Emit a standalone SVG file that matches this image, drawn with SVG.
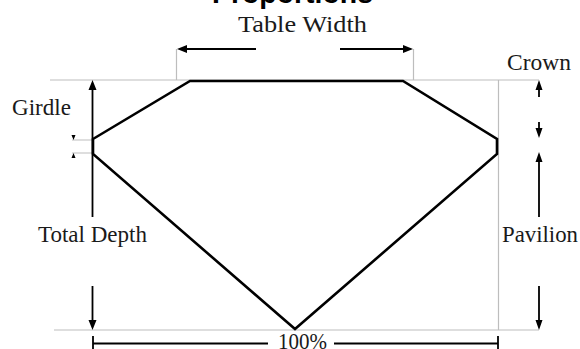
<svg xmlns="http://www.w3.org/2000/svg" width="580" height="349" viewBox="0 0 580 349">
<style>
text{font-family:"Liberation Serif",serif;font-size:23px;fill:#1a1a1a}
.g{stroke:#bdbdbd;stroke-width:1.2;fill:none}
.a{stroke:#000;stroke-width:1.8;fill:none}
.h{fill:#000;stroke:none}
</style>
<rect width="580" height="349" fill="#fff"/>
<g id="guides">
<path class="g" d="M50 80H539M54 330H539M176.500 49V80M413.500 49V80M498.500 80V330M72 140H93M72 153H93"/>
</g>
<g id="diamond"><path d="M93 139L190 81H403L497 139V154L295 329L93 154Z" fill="none" stroke="#000" stroke-width="2.600" stroke-linejoin="miter"/></g>
<g id="connectors">
<path class="a" d="M256 49H186M340 49H404M92.500 217V88M92.500 286V322M539 97V88M539 122V131M539 217V160M539 286V322M93 343.500H268M334 343.500H498M93 336V349M498 336V349"/>
<path class="h" d="M177 49L187 45V53ZM413 49L403 45V53ZM92.500 80L88.500 90H96.500ZM92.500 330L88.500 320H96.500ZM539 80L535.500 90H542.500ZM539 138L535.500 128H542.500ZM539 152L535.500 162H542.500ZM539 330L535.500 320H542.500ZM73.500 140L71.500 135H75.500ZM73.500 153L71.500 158H75.500Z"/>
</g>
<g id="title"><text x="292.500" y="3" text-anchor="middle" textLength="161" lengthAdjust="spacingAndGlyphs" style="font-family:'Liberation Sans',sans-serif;font-weight:bold;font-size:29px;fill:#000">Proportions</text></g>
<g id="label-table"><text x="238" y="32" textLength="129" lengthAdjust="spacingAndGlyphs">Table Width</text></g>
<g id="label-crown"><text x="507" y="70" textLength="64" lengthAdjust="spacingAndGlyphs">Crown</text></g>
<g id="label-girdle"><text x="12" y="115" textLength="59" lengthAdjust="spacingAndGlyphs">Girdle</text></g>
<g id="label-depth"><text x="38" y="242" textLength="109" lengthAdjust="spacingAndGlyphs">Total Depth</text></g>
<g id="label-pavilion"><text x="502" y="242" textLength="76" lengthAdjust="spacingAndGlyphs">Pavilion</text></g>
<g id="label-100"><text x="278" y="349" textLength="49" lengthAdjust="spacingAndGlyphs">100%</text></g>
</svg>
